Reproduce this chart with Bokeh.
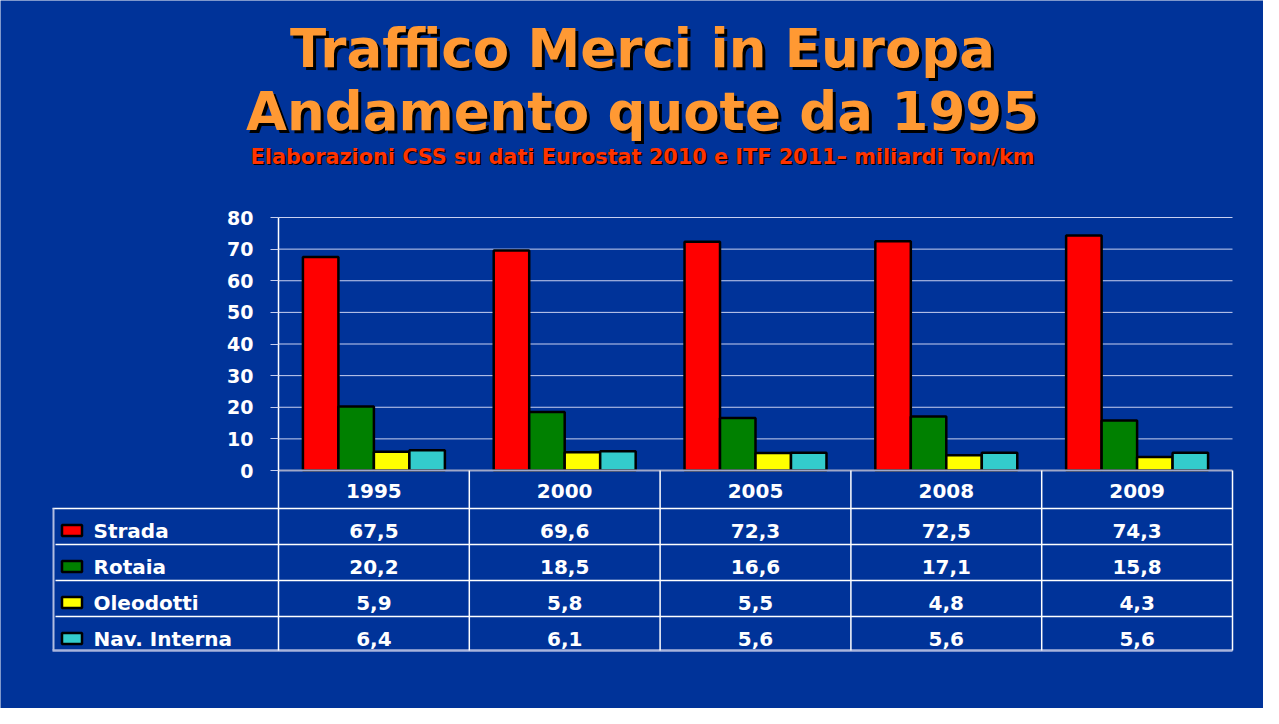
from bokeh.plotting import figure
from bokeh.models import Range1d, LinearAxis, FixedTicker
from bokeh.core.properties import value
from bokeh.embed import file_html
from bokeh.resources import INLINE

# ---------------- data ----------------
years = ["1995", "2000", "2005", "2008", "2009"]
series = ["Strada", "Rotaia", "Oleodotti", "Nav. Interna"]
strada = [67.5, 69.6, 72.3, 72.5, 74.3]
rotaia = [20.2, 18.5, 16.6, 17.1, 15.8]
oleodotti = [5.9, 5.8, 5.5, 4.8, 4.3]
nav_interna = [6.4, 6.1, 5.6, 5.6, 5.6]
y_ticks = [0, 10, 20, 30, 40, 50, 60, 70, 80]

title1 = "Traffico Merci in Europa"
title2 = "Andamento quote da 1995"
subtitle = "Elaborazioni CSS su dati Eurostat 2010 e ITF 2011\u2013 miliardi Ton/km"

# ---------------- style / layout ----------------
BG = "#003399"
colors = ["#FF0000", "#008000", "#FFFF00", "#33CCCC"]
FONT = value("DejaVu Sans")

W, H = 1263, 708
PAGE = 8
X0, UX = 286.0, 190.8      # page x of category axis origin, px per category
Y0, UY = 478.0, 253.0 / 80  # page y of value 0, px per unit


def dx(px):
    return (px - X0) / UX


def dy(py):
    return (Y0 - py) / UY


p = figure(width=W, height=H, output_backend="svg", toolbar_location=None,
           x_range=Range1d(dx(PAGE), dx(PAGE + W)),
           y_range=Range1d(dy(PAGE + H), dy(PAGE)),
           x_axis_location=None, y_axis_location=None,
           background_fill_color=BG, border_fill_color=BG,
           outline_line_color=None, min_border=0)
p.min_border_left = 0
p.min_border_right = 0
p.min_border_top = 0
p.min_border_bottom = 0
p.xgrid.visible = False
p.ygrid.visible = False

n = len(years)
table_bottom = dy(658)

# y axis at category origin
yaxis = LinearAxis(fixed_location=0, ticker=FixedTicker(ticks=y_ticks),
                   bounds=(table_bottom, max(y_ticks)))
yaxis.axis_line_color = "white"
yaxis.axis_line_width = 1.5
yaxis.major_tick_out = 8
yaxis.major_tick_in = 0
yaxis.minor_tick_out = 0
yaxis.minor_tick_in = 0
yaxis.major_tick_line_color = "#C8D0F0"
yaxis.major_label_standoff = 17
yaxis.major_label_text_color = "white"
yaxis.major_label_text_font = "DejaVu Sans"
yaxis.major_label_text_font_style = "bold"
yaxis.major_label_text_font_size = "19px"
p.add_layout(yaxis, "left")

# gridlines
grid_vals = [t for t in y_ticks if t > 0]
p.segment(x0=[0] * len(grid_vals), x1=[n] * len(grid_vals), y0=grid_vals, y1=grid_vals,
          line_color="#C8D0F0", line_width=1)

# bars
values = [strada, rotaia, oleodotti, nav_interna]
bw = 0.186
offsets = [(k - 1.5) * bw for k in range(len(series))]
for k, (vals, col) in enumerate(zip(values, colors)):
    xs = [i + 0.5 + offsets[k] for i in range(n)]
    p.vbar(x=xs, top=vals, bottom=0, width=bw, fill_color=col,
           line_color="black", line_width=2.5)

# zero line
p.segment(x0=[0], x1=[n], y0=[0], y1=[0], line_color="#A0A8C8", line_width=2)

# ---------------- data table ----------------
row_lines = [dy(v) for v in (516, 552, 588, 624)]
p.segment(x0=[dx(60)], x1=[n], y0=[row_lines[0]], y1=[row_lines[0]],
          line_color="white", line_width=1.5)
p.segment(x0=[dx(63)] * 3, x1=[n] * 3, y0=row_lines[1:], y1=row_lines[1:],
          line_color="white", line_width=1.5)
p.segment(x0=[dx(60)], x1=[n], y0=[table_bottom], y1=[table_bottom],
          line_color="#A8B4DC", line_width=2.5)
p.segment(x0=[dx(61)], x1=[dx(61)], y0=[row_lines[0]], y1=[table_bottom],
          line_color="#B0BCE0", line_width=2)
col_x = list(range(1, n + 1))
p.segment(x0=col_x, x1=col_x, y0=[0] * n, y1=[table_bottom] * n,
          line_color="white", line_width=1.5)

TXT = "20px"
# header years
p.text(x=[i + 0.5 for i in range(n)], y=[dy(498)] * n, text=years,
       text_align="center", text_baseline="middle", text_color="white",
       text_font=FONT, text_font_style="bold", text_font_size=TXT)

row_centers = [dy(v) for v in (538, 574, 610, 646)]
for r, (name, vals, col) in enumerate(zip(series, values, colors)):
    yc = row_centers[r]
    p.rect(x=[dx(79.5)], y=[yc], width=20, height=11, width_units="screen",
           height_units="screen", fill_color=col, line_color="black", line_width=2.5)
    p.text(x=[dx(101)], y=[yc], text=[name], text_align="left", text_baseline="middle",
           text_color="white", text_font=FONT, text_font_style="bold", text_font_size=TXT)
    p.text(x=[i + 0.5 for i in range(n)], y=[yc] * n,
           text=[f"{v:.1f}".replace(".", ",") for v in vals],
           text_align="center", text_baseline="middle", text_color="white",
           text_font=FONT, text_font_style="bold", text_font_size=TXT)

# ---------------- titles ----------------
xc = dx(650)
for txt, mid, size, col, off in ((title1, 56, "53px", "#FF9933", 3),
                                 (title2, 119, "53px", "#FF9933", 3),
                                 (subtitle, 164, "20.8px", "#FF3300", 1.5)):
    p.text(x=[xc], y=[dy(mid)], text=[txt], x_offset=off, y_offset=off,
           text_align="center", text_baseline="middle", text_color="#000000",
           text_font=FONT, text_font_style="bold", text_font_size=size)
    p.text(x=[xc], y=[dy(mid)], text=[txt],
           text_align="center", text_baseline="middle", text_color=col,
           text_font=FONT, text_font_style="bold", text_font_size=size)

open("out.html", "w").write(file_html(p, INLINE))
